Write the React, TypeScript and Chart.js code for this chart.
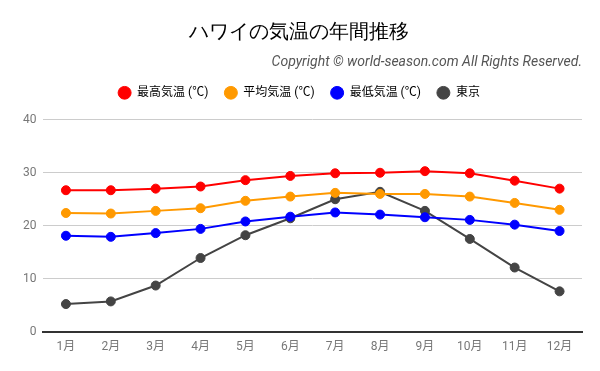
import React, { useEffect, useRef } from "react";
import { Chart, registerables } from "chart.js";

Chart.register(...registerables);

const months = ["1月", "2月", "3月", "4月", "5月", "6月", "7月", "8月", "9月", "10月", "11月", "12月"];
const highTemps = [26.7, 26.7, 27.0, 27.4, 28.6, 29.4, 29.9, 30.0, 30.3, 29.9, 28.5, 27.0];
const avgTemps = [22.4, 22.3, 22.8, 23.3, 24.7, 25.5, 26.2, 26.0, 26.0, 25.5, 24.3, 23.0];
const lowTemps = [18.1, 17.9, 18.6, 19.4, 20.8, 21.7, 22.5, 22.1, 21.6, 21.1, 20.2, 19.0];
const tokyoTemps = [5.2, 5.7, 8.7, 13.9, 18.2, 21.4, 25.0, 26.4, 22.8, 17.5, 12.1, 7.6];
const seriesLabels = ["最高気温 (℃)", "平均気温 (℃)", "最低気温 (℃)", "東京"];
const seriesColors = ["#ff0000", "#ff9900", "#0000ff", "#444444"];

const FONT = "Roboto, 'Noto Sans CJK JP', sans-serif";

const legendMargin = {
  id: "legendMargin",
  beforeInit(chart: any) {
    const legend = chart.legend;
    if (!legend) return;
    const orig = legend.fit;
    legend.fit = function fit() {
      orig.bind(legend)();
      this.height += 11;
    };
  },
};

export default function App() {
  const ref = useRef<HTMLCanvasElement>(null);
  useEffect(() => {
    if (!ref.current) return;
    const series = [highTemps, avgTemps, lowTemps, tokyoTemps];
    const chart = new Chart(ref.current, {
      type: "line",
      data: {
        labels: months,
        datasets: series.map((d, i) => ({
          label: seriesLabels[i],
          data: d,
          borderColor: seriesColors[i],
          backgroundColor: seriesColors[i],
          pointBackgroundColor: seriesColors[i],
          pointBorderColor: seriesColors[i],
          borderWidth: 2,
          pointRadius: 4.5,
          pointBorderWidth: 1,
          tension: 0,
        })),
      },
      plugins: [legendMargin],
      options: {
        animation: false,
        responsive: false,
        layout: { padding: { left: 16, right: 18, bottom: 17, top: 0 } },
        plugins: {
          title: {
            display: true,
            text: "ハワイの気温の年間推移",
            color: "#000",
            font: { family: "serif", size: 20, weight: "normal" },
            padding: { top: 21, bottom: 0 },
          },
          subtitle: {
            display: true,
            text: "Copyright © world-season.com All Rights Reserved.",
            align: "end",
            color: "#555",
            font: { family: FONT, size: 14, style: "italic" },
            padding: { top: 9, bottom: 0 },
          },
          legend: {
            display: true,
            labels: {
              usePointStyle: true,
              pointStyle: "circle",
              boxWidth: 9,
              boxHeight: 9,
              pointStyleWidth: 13,
              color: "#000",
              font: { family: FONT, size: 12 },
              padding: 16,
            },
          },
          tooltip: { enabled: false },
        },
        scales: {
          x: {
            offset: true,
            grid: { display: false },
            border: { color: "#333", width: 2 },
            ticks: { color: "#777", font: { family: FONT, size: 12 }, padding: 0 },
          },
          y: {
            min: 0,
            max: 40,
            ticks: { stepSize: 10, color: "#777", font: { family: FONT, size: 12 }, padding: 7 },
            grid: { color: "#cccccc", drawTicks: false },
            border: { display: false },
          },
        },
      },
    });
    return () => chart.destroy();
  }, []);
  return (
    <div style={{ position: "absolute", left: 0, top: 0, width: 600, height: 371, background: "#fff" }}>
      <canvas ref={ref} width={600} height={371} />
    </div>
  );
}
